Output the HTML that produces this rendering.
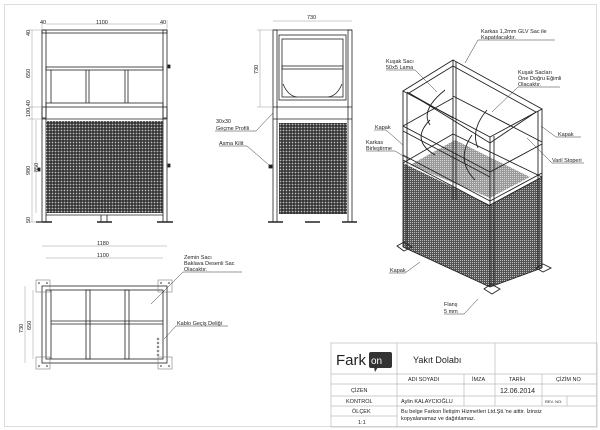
<!DOCTYPE html>
<html><head><meta charset="utf-8"><style>
html,body{margin:0;padding:0;background:#fff}
svg{display:block}
text{font-family:"Liberation Sans",sans-serif;fill:#222}
</style></head><body>
<svg width="600" height="430" viewBox="0 0 600 430" xmlns="http://www.w3.org/2000/svg">
<defs>
<pattern id="mesh" width="3" height="3" patternUnits="userSpaceOnUse">
<rect width="3" height="3" fill="#333"/><circle cx="1.5" cy="1.5" r="0.9" fill="#bbb"/>
</pattern>
<pattern id="mesh2" width="2" height="2" patternUnits="userSpaceOnUse">
<rect width="2" height="2" fill="#555"/><rect x="0" y="0" width="1" height="1" fill="#bbb"/>
</pattern>
</defs>
<rect x="4.5" y="4.5" width="592" height="422" fill="none" stroke="#ddd"/>

<!-- FRONT VIEW -->
<g stroke="#222" fill="none" stroke-width="0.8">
<rect x="42" y="30" width="4" height="192"/><rect x="163" y="30" width="4" height="192"/>
<rect x="42" y="30" width="125" height="3"/>
<rect x="46" y="67" width="117" height="3"/>
<rect x="46" y="103" width="117" height="4"/>
<line x1="51" y1="70" x2="51" y2="103"/><line x1="86" y1="70" x2="86" y2="103"/><line x1="89" y1="70" x2="89" y2="103"/>
<line x1="125" y1="70" x2="125" y2="103"/><line x1="128" y1="70" x2="128" y2="103"/>
<rect x="42" y="107" width="4" height="11"/><rect x="163" y="107" width="4" height="11"/>
<line x1="42" y1="119" x2="167" y2="119"/>
<line x1="46" y1="215" x2="163" y2="215"/>
<line x1="36" y1="222" x2="52" y2="222" stroke-width="1.5"/><line x1="157" y1="222" x2="173" y2="222" stroke-width="1.5"/>
<line x1="97" y1="222" x2="112" y2="222" stroke-width="1.5"/><line x1="101" y1="215" x2="101" y2="222"/><line x1="107" y1="215" x2="107" y2="222"/>
<rect x="168" y="65" width="2" height="3" fill="#222"/><rect x="168" y="164" width="2" height="3" fill="#222"/><rect x="38" y="168" width="2" height="3" fill="#222"/>
</g>
<rect x="46" y="121" width="117" height="92" fill="url(#mesh)"/>
<g stroke="#999" stroke-width="0.5" fill="none">
<line x1="46" y1="24" x2="163" y2="24"/><line x1="42" y1="20" x2="42" y2="29"/><line x1="167" y1="20" x2="167" y2="29"/>
<line x1="32" y1="30" x2="32" y2="222"/><line x1="36" y1="120" x2="36" y2="213"/>
<line x1="28" y1="30" x2="42" y2="30"/><line x1="28" y1="107" x2="42" y2="107"/><line x1="28" y1="119" x2="42" y2="119"/><line x1="28" y1="222" x2="42" y2="222"/>
</g>
<g font-size="5.5" fill="#555">
<text x="40" y="24">40</text><text x="96" y="24">1100</text><text x="160" y="24">40</text>
<g transform="rotate(-90)">
<text x="-36" y="30">40</text><text x="-78" y="30">650</text><text x="-117" y="30">100,40</text><text x="-175" y="30">980</text><text x="-172" y="38">850</text><text x="-223" y="30">50</text>
</g></g>

<!-- SIDE VIEW -->
<g stroke="#222" fill="none" stroke-width="0.8">
<rect x="273" y="30" width="4" height="192"/><rect x="348" y="30" width="4" height="192"/>
<line x1="273" y1="30" x2="352" y2="30"/>
<rect x="279" y="35" width="67" height="65"/><rect x="282" y="39" width="61" height="58"/>
<rect x="282" y="66" width="61" height="3"/>
<path d="M283 84 Q288 96 297 97 M342 84 Q337 96 328 97"/>
<line x1="273" y1="107" x2="352" y2="107"/>
<line x1="273" y1="119" x2="352" y2="119"/>
<line x1="268" y1="222" x2="283" y2="222" stroke-width="1.5"/><line x1="342" y1="222" x2="357" y2="222" stroke-width="1.5"/>
<line x1="305" y1="222" x2="320" y2="222" stroke-width="1.5"/>
<rect x="269" y="165" width="3" height="3" fill="#222"/>
</g>
<rect x="279" y="123" width="68" height="91" fill="url(#mesh)"/>
<g stroke="#999" stroke-width="0.5"><line x1="273" y1="21" x2="352" y2="21"/><line x1="260" y1="30" x2="260" y2="107"/><line x1="257" y1="30" x2="273" y2="30"/><line x1="257" y1="107" x2="273" y2="107"/></g>
<text x="307" y="19" font-size="5.5" fill="#555">730</text>
<text transform="translate(258,74) rotate(-90)" font-size="5.5" fill="#555">730</text>
<g stroke="#333" stroke-width="0.5" fill="none">
<line x1="215" y1="131" x2="256" y2="131"/><line x1="256" y1="131" x2="273" y2="113"/>
<line x1="219" y1="146" x2="247" y2="146"/><line x1="247" y1="146" x2="269" y2="165"/>
</g>
<text x="216" y="123" font-size="5.5">30x30</text><text x="216" y="130" font-size="5.5">Geçme Profili</text>
<text x="219" y="145" font-size="5.5">Asma Kilit</text>

<!-- PLAN VIEW -->
<g stroke="#222" fill="none" stroke-width="0.8">
<rect x="42" y="286" width="125" height="77"/><rect x="46" y="290" width="117" height="69"/>
<line x1="51" y1="290" x2="51" y2="359"/>
<rect x="86" y="290" width="4" height="69"/><rect x="125" y="290" width="4" height="69"/>
<line x1="51" y1="321" x2="163" y2="321"/><line x1="51" y1="324" x2="163" y2="324"/>
<rect x="36" y="280" width="14" height="12" stroke="#666" stroke-width="0.5"/><rect x="158" y="280" width="14" height="12" stroke="#666" stroke-width="0.5"/>
<rect x="36" y="357" width="14" height="12" stroke="#666" stroke-width="0.5"/><rect x="158" y="357" width="14" height="12" stroke="#666" stroke-width="0.5"/>
</g>
<g fill="#222"><circle cx="39" cy="283" r="0.8"/><circle cx="47" cy="283" r="0.8"/><circle cx="161" cy="283" r="0.8"/><circle cx="169" cy="283" r="0.8"/>
<circle cx="39" cy="366" r="0.8"/><circle cx="47" cy="366" r="0.8"/><circle cx="161" cy="366" r="0.8"/><circle cx="169" cy="366" r="0.8"/>
<circle cx="158" cy="339" r="1" fill="none" stroke="#222" stroke-width="0.5"/><circle cx="158" cy="343" r="1" fill="none" stroke="#222" stroke-width="0.5"/><circle cx="158" cy="347" r="1" fill="none" stroke="#222" stroke-width="0.5"/><circle cx="158" cy="351" r="1" fill="none" stroke="#222" stroke-width="0.5"/><circle cx="158" cy="355" r="1" fill="none" stroke="#222" stroke-width="0.5"/></g>
<g stroke="#999" stroke-width="0.5"><line x1="42" y1="246" x2="167" y2="246"/><line x1="46" y1="258" x2="163" y2="258"/>
<line x1="25" y1="286" x2="25" y2="363"/><line x1="33" y1="290" x2="33" y2="359"/></g>
<text x="97" y="245" font-size="5.5" fill="#555">1180</text><text x="97" y="257" font-size="5.5" fill="#555">1100</text>
<text transform="translate(23,333) rotate(-90)" font-size="5.5" fill="#555">730</text>
<text transform="translate(31,330) rotate(-90)" font-size="5.5" fill="#555">650</text>
<g stroke="#333" stroke-width="0.5"><line x1="183" y1="272" x2="242" y2="272"/><line x1="183" y1="272" x2="151" y2="304"/>
<line x1="176" y1="326" x2="228" y2="326"/><line x1="176" y1="326" x2="164" y2="339"/></g>
<text x="184" y="259" font-size="5.5">Zemin Sacı</text><text x="184" y="265" font-size="5.5">Baklava Desenli Sac</text><text x="184" y="271" font-size="5.5">Olacaktır.</text>
<text x="177" y="325" font-size="5.5">Kablo Geçiş Deliği</text>

<!-- ISO VIEW -->
<polygon points="403,163 490,205 490,287 403,247" fill="url(#mesh2)"/>
<polygon points="490,205 542,177 542,268 490,287" fill="url(#mesh2)"/>
<polygon points="410,165 455,140 530,177 490,198" fill="url(#mesh2)" opacity="0.6"/>
<g stroke="#222" fill="none" stroke-width="0.9">
<polygon points="453,60 403,91 490,137 542,109"/>
<polygon points="453,66 409,93 490,143 536,112"/>
<line x1="403" y1="91" x2="403" y2="247"/><line x1="407" y1="93" x2="407" y2="249"/>
<line x1="490" y1="137" x2="490" y2="287"/><line x1="494" y1="136" x2="494" y2="285"/>
<line x1="542" y1="109" x2="542" y2="268"/><line x1="538" y1="111" x2="538" y2="268"/>
<line x1="453" y1="60" x2="453" y2="200"/><line x1="456" y1="62" x2="456" y2="200"/>
<line x1="403" y1="126" x2="490" y2="172"/><line x1="403" y1="131" x2="490" y2="177"/>
<line x1="403" y1="155" x2="490" y2="201"/><line x1="403" y1="160" x2="490" y2="206"/>
<line x1="403" y1="163" x2="453" y2="134"/><line x1="490" y1="205" x2="542" y2="177"/><line x1="490" y1="201" x2="542" y2="173"/>
<line x1="453" y1="134" x2="542" y2="177"/>
<line x1="407" y1="92" x2="453" y2="118"/><line x1="453" y1="96" x2="542" y2="142"/>
<line x1="403" y1="126" x2="453" y2="98"/><line x1="490" y1="172" x2="542" y2="144"/>
<path d="M430 120 Q410 140 435 155 M472 135 Q455 160 475 180"/>
<path d="M445 90 Q420 110 430 125 M487 110 Q470 130 478 148"/>
<line x1="403" y1="247" x2="490" y2="287"/><line x1="490" y1="287" x2="542" y2="268"/>
<polygon points="397,246 404,242 412,247 404,251"/><polygon points="484,289 491,284 500,289 492,294"/><polygon points="536,268 543,264 551,268 543,272"/>
</g>
<g stroke="#333" stroke-width="0.5" fill="none">
<line x1="478" y1="40" x2="555" y2="40"/><line x1="478" y1="40" x2="465" y2="63"/>
<line x1="386" y1="70" x2="415" y2="70"/><line x1="415" y1="70" x2="437" y2="92"/>
<line x1="518" y1="87" x2="560" y2="87"/><line x1="518" y1="87" x2="492" y2="112"/>
<line x1="374" y1="130" x2="386" y2="130"/><line x1="386" y1="130" x2="403" y2="145"/>
<line x1="366" y1="151" x2="395" y2="151"/><line x1="395" y1="151" x2="410" y2="160"/>
<line x1="556" y1="137" x2="581" y2="137"/><line x1="556" y1="137" x2="541" y2="126"/>
<line x1="552" y1="163" x2="584" y2="163"/><line x1="552" y1="163" x2="527" y2="138"/>
<line x1="389" y1="273" x2="405" y2="273"/><line x1="405" y1="273" x2="420" y2="262"/>
<line x1="444" y1="314" x2="464" y2="314"/><line x1="464" y1="314" x2="478" y2="299"/>
</g>
<g font-size="5.5">
<text x="481" y="33">Karkas 1,2mm GLV Sac ile</text><text x="481" y="39">Kapatılacaktır.</text>
<text x="386" y="63">Kuşak Sacı</text><text x="386" y="69">50x5 Lama</text>
<text x="518" y="74">Kuşak Sacları</text><text x="518" y="80">Öne Doğru Eğimli</text><text x="518" y="86">Olacaktır.</text>
<text x="375" y="129">Kapak</text>
<text x="366" y="144">Karkas</text><text x="366" y="150">Birleştirme</text>
<text x="558" y="136">Kapak</text><text x="552" y="162">Varil Stoperi</text>
<text x="390" y="272">Kapak</text>
<text x="444" y="306">Flanş</text><text x="444" y="313">5 mm</text>
</g>

<!-- TITLE BLOCK -->
<g stroke="#bbb" stroke-width="0.7" fill="none">
<rect x="331" y="343" width="266" height="84"/>
<line x1="397" y1="343" x2="397" y2="427"/><line x1="495" y1="343" x2="495" y2="406"/>
<line x1="331" y1="374" x2="597" y2="374"/><line x1="331" y1="384" x2="597" y2="384"/>
<line x1="331" y1="396" x2="597" y2="396"/><line x1="331" y1="406" x2="597" y2="406"/><line x1="331" y1="416" x2="397" y2="416"/>
<line x1="464" y1="374" x2="464" y2="406"/><line x1="542" y1="374" x2="542" y2="406"/><line x1="567" y1="396" x2="567" y2="406"/>
</g>
<text x="336" y="365" font-size="15" fill="#333">Fark</text>
<rect x="369" y="352" width="23" height="16" rx="2" fill="#333"/>
<polygon points="374,367 378,367 375,372" fill="#333"/>
<text x="371" y="364" font-size="10" style="fill:#fff">on</text>
<text x="413" y="363" font-size="9">Yakıt Dolabı</text>
<g font-size="5.5">
<text x="408" y="381">ADI SOYADI</text><text x="472" y="381">İMZA</text><text x="509" y="381">TARİH</text><text x="556" y="381">ÇİZİM NO</text>
<text x="351" y="392">ÇİZEN</text><text x="346" y="403">KONTROL</text><text x="352" y="413">ÖLÇEK</text><text x="358" y="424">1:1</text>
<text x="401" y="403">Aylin KALAYCIOĞLU</text>
<text x="545" y="403" font-size="4">REV. NO:</text>
<text x="401" y="413">Bu belge Farkon İletişim Hizmetleri Ltd.Şti.'ne aittir. İzinsiz</text>
<text x="401" y="420">kopyalanamaz ve dağıtılamaz.</text>
</g>
<text x="500" y="393" font-size="7">12.06.2014</text>
</svg>
</body></html>
